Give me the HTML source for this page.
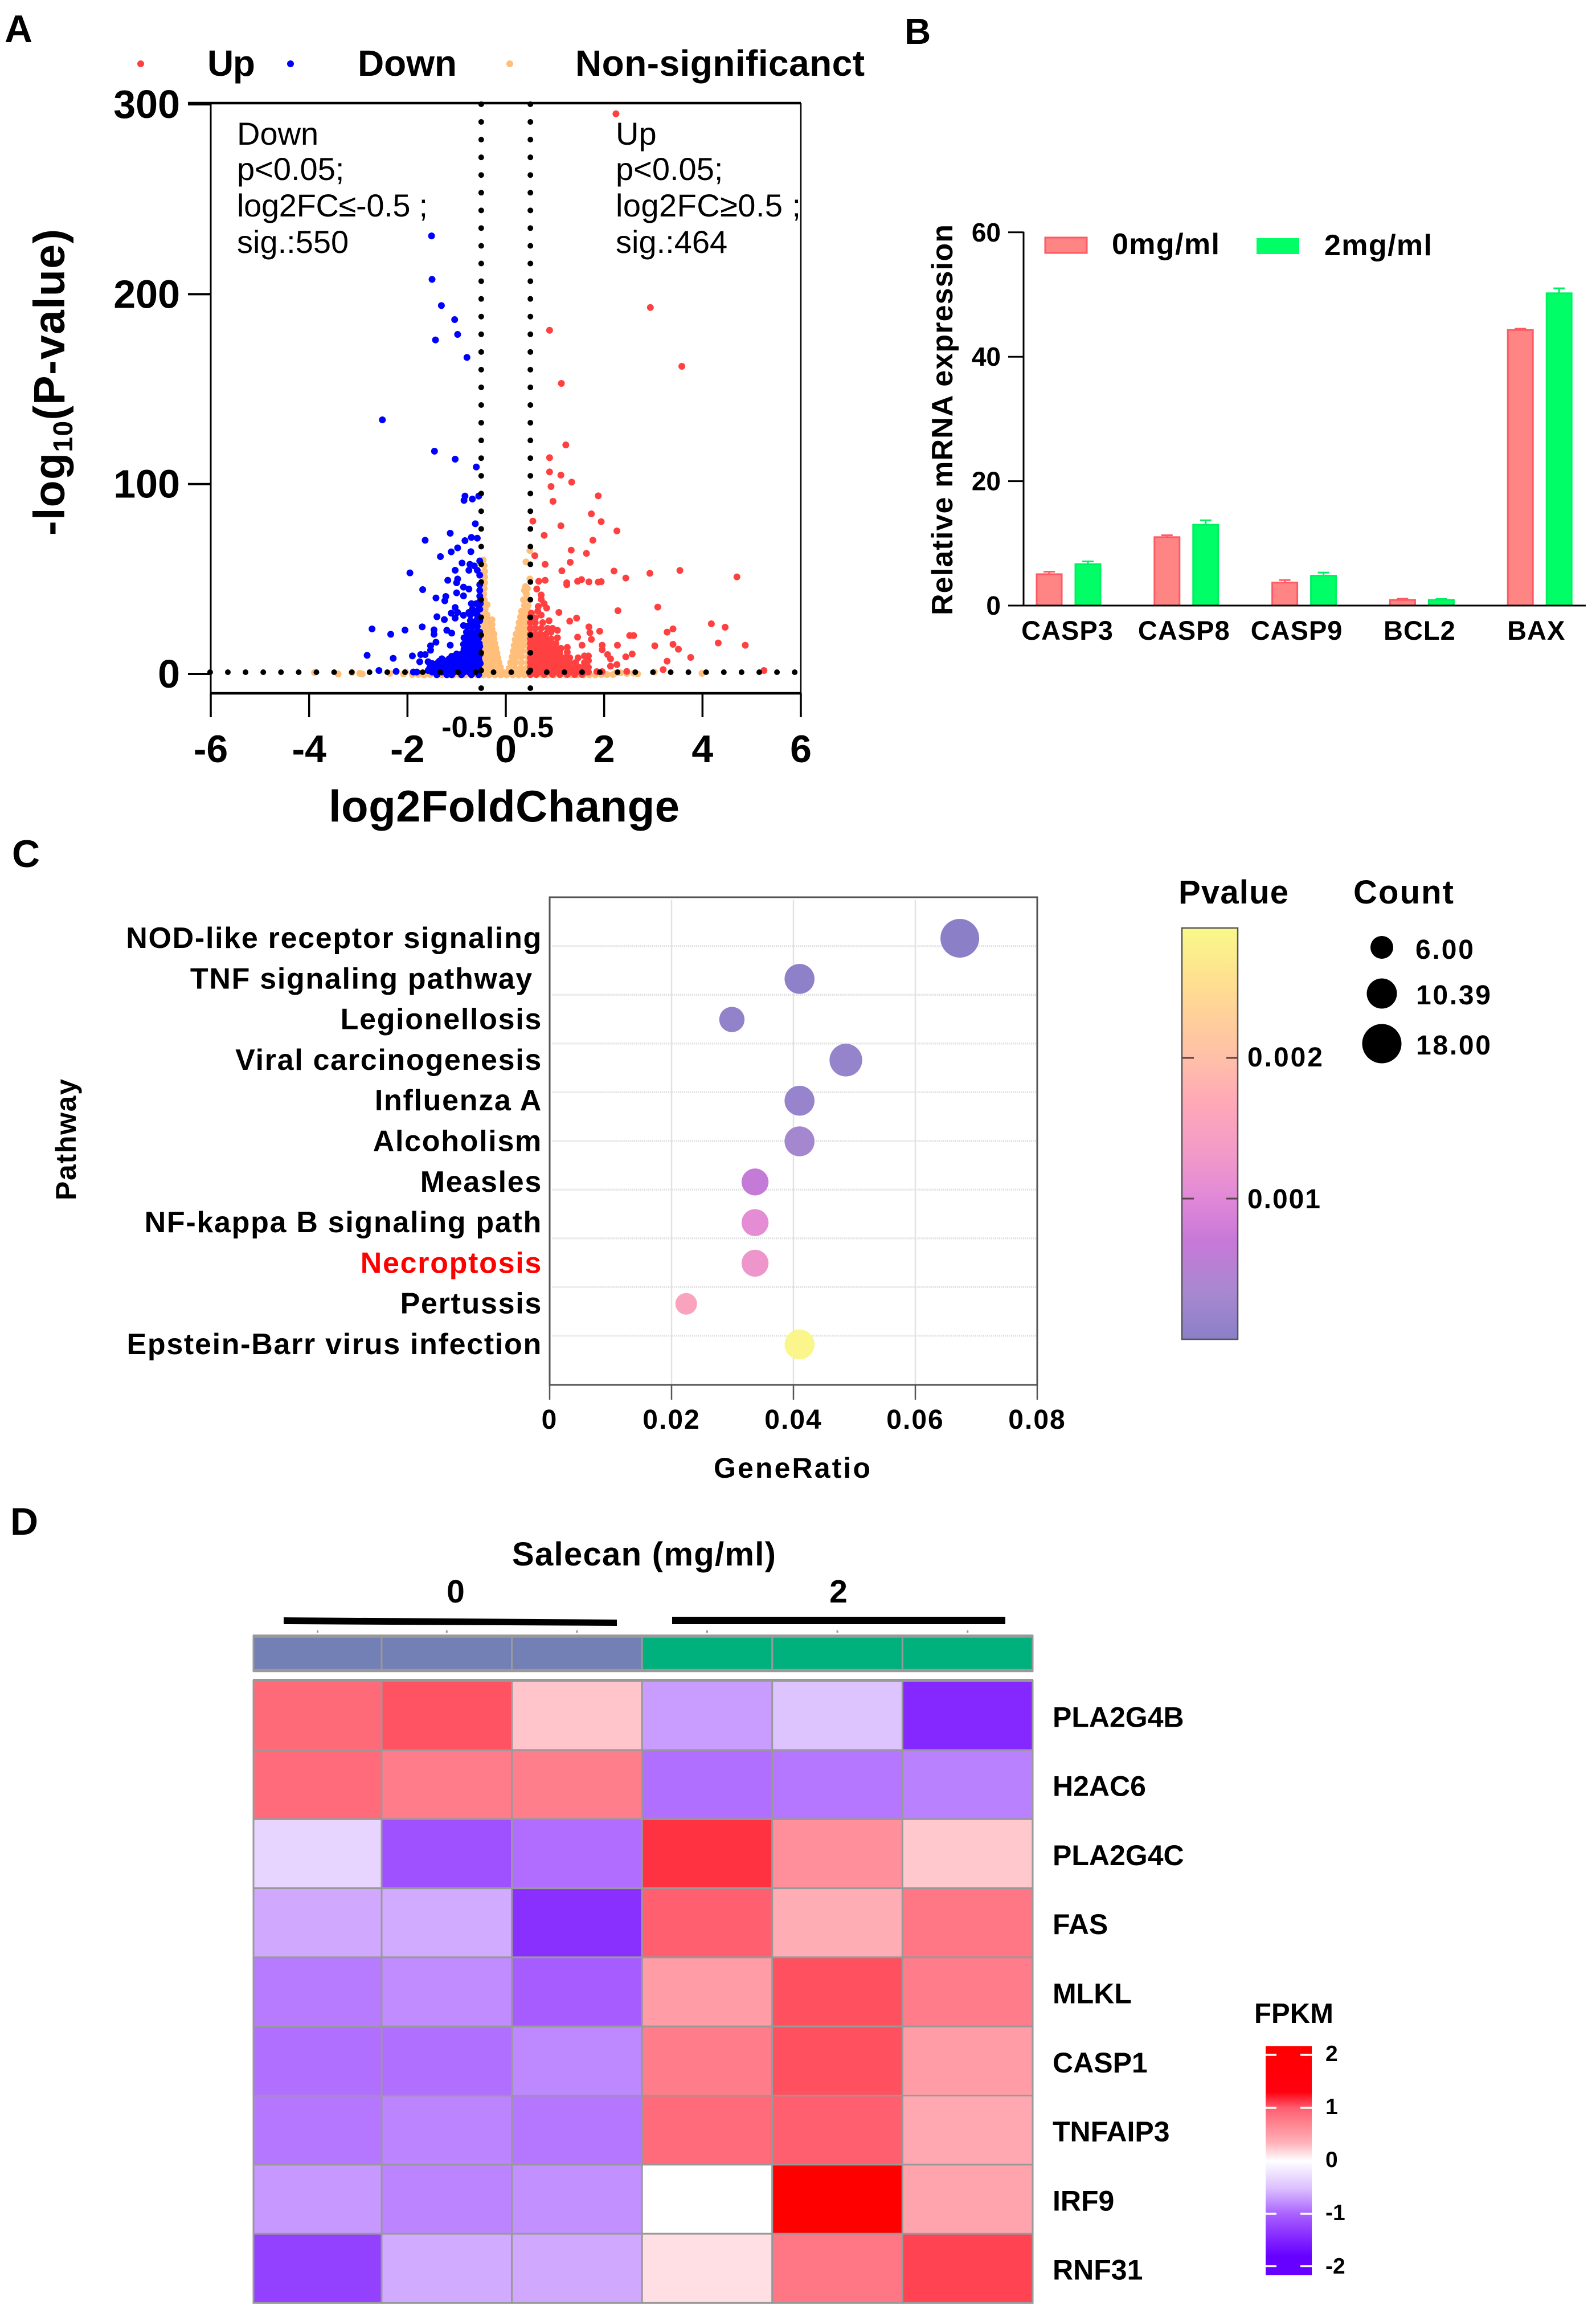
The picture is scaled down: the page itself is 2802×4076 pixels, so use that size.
<!DOCTYPE html>
<html lang="en">
<head>
<meta charset="utf-8">
<title>Salecan transcriptomic figure</title>
<style>
html,body{margin:0;padding:0;background:#fff;}
svg{display:block;}
text{font-family:"Liberation Sans",Arial,sans-serif;fill:#000;}
.b{font-weight:bold;}
</style>
</head>
<body>
<svg id="fig" xmlns="http://www.w3.org/2000/svg" width="2802" height="4076" viewBox="0 0 2802 4076">
<defs>
<linearGradient id="pg" x1="0" y1="1" x2="0" y2="0">
<stop offset="0" stop-color="#8a80c8"/><stop offset=".115" stop-color="#a888d0"/><stop offset=".24" stop-color="#c878d8"/><stop offset=".34" stop-color="#e088d8"/><stop offset=".45" stop-color="#f29ac8"/><stop offset=".575" stop-color="#ffa8b8"/><stop offset=".68" stop-color="#ffbfa8"/><stop offset=".74" stop-color="#ffc8a0"/><stop offset=".87" stop-color="#ffdf90"/><stop offset="1" stop-color="#f9f98a"/>
</linearGradient>
<linearGradient id="fg" x1="0" y1="0" x2="0" y2="1">
<stop offset="0" stop-color="#ff0000"/><stop offset=".2" stop-color="#ff0010"/><stop offset=".27" stop-color="#ff5f70"/><stop offset=".42" stop-color="#ffb0b8"/><stop offset=".5" stop-color="#ffffff"/><stop offset=".62" stop-color="#dcc0ff"/><stop offset=".735" stop-color="#a960ff"/><stop offset=".85" stop-color="#7f20ff"/><stop offset=".92" stop-color="#6600ff"/><stop offset="1" stop-color="#6600ff"/>
</linearGradient>
</defs>

<text class="b" x="8" y="74" font-size="68">A</text>
<text class="b" x="1588" y="77" font-size="64">B</text>
<text class="b" x="21" y="1522" font-size="68">C</text>
<text class="b" x="18" y="2694" font-size="68">D</text>

<g id="panelA">
<circle cx="247" cy="112" r="6" fill="#ff4040"/>
<text class="b" x="364" y="133" font-size="64" textLength="84">Up</text>
<circle cx="510" cy="112" r="6" fill="#0000ff"/>
<text class="b" x="628" y="133" font-size="64" textLength="174">Down</text>
<circle cx="895" cy="112" r="6" fill="#ffbe7a"/>
<text class="b" x="1010" y="133" font-size="64" textLength="508">Non-significanct</text>
<text class="b" transform="translate(113 940) rotate(-90)" font-size="77" textLength="538">-log<tspan font-size="48" dy="14">10</tspan><tspan dy="-14">(P-value)</tspan></text>
<text class="b" x="577" y="1442" font-size="78" textLength="616">log2FoldChange</text>
<text x="416" y="254" font-size="56">Down</text>
<text x="416" y="316" font-size="56">p&lt;0.05;</text>
<text x="416" y="380" font-size="56" textLength="335">log2FC≤-0.5 ;</text>
<text x="416" y="444" font-size="56">sig.:550</text>
<text x="1081" y="254" font-size="56">Up</text>
<text x="1081" y="316" font-size="56">p&lt;0.05;</text>
<text x="1081" y="380" font-size="56" textLength="325">log2FC≥0.5 ;</text>
<text x="1081" y="444" font-size="56">sig.:464</text>
<text class="b" x="820" y="1294" font-size="52" text-anchor="middle">-0.5</text>
<text class="b" x="936" y="1294" font-size="52" text-anchor="middle">0.5</text>
</g>

<g id="panelB">
<rect x="1835" y="417" width="73" height="27" fill="#ff8484" stroke="#ff5a64" stroke-width="3"/>
<text class="b" x="1952" y="446" font-size="52" textLength="189">0mg/ml</text>
<rect x="2206" y="418" width="75" height="28" fill="#00ff66"/>
<text class="b" x="2325" y="448" font-size="52" textLength="189">2mg/ml</text>
<text class="b" transform="translate(1672 1080) rotate(-90)" font-size="52" textLength="686">Relative mRNA expression</text>
</g>

<g id="panelC">
<text class="b" transform="translate(133 2107) rotate(-90)" font-size="50" textLength="213">Pathway</text>
<text class="b" x="1253" y="2594" font-size="50" textLength="275">GeneRatio</text>
<text class="b" x="2069" y="1586" font-size="58" textLength="193">Pvalue</text>
<rect x="2075" y="1629" width="98" height="722" fill="url(#pg)" stroke="#555" stroke-width="2.5"/>
<path d="M2076 1857h20M2153 1857h20M2076 2104h20M2153 2104h20" stroke="#5a4048" stroke-width="3" fill="none"/>
<text class="b" x="2190" y="1872" font-size="48" textLength="132">0.002</text>
<text class="b" x="2190" y="2121" font-size="48" textLength="128">0.001</text>
<text class="b" x="2376" y="1586" font-size="58" textLength="176">Count</text>
<circle cx="2426" cy="1663" r="20"/>
<circle cx="2426" cy="1744" r="26.5"/>
<circle cx="2426" cy="1832" r="34.5"/>
<text class="b" x="2485" y="1683" font-size="48" textLength="102">6.00</text>
<text class="b" x="2486" y="1763" font-size="48" textLength="131">10.39</text>
<text class="b" x="2486" y="1851" font-size="48" textLength="131">18.00</text>
</g>

<g id="panelD">
<text class="b" x="899" y="2748" font-size="58" textLength="463">Salecan (mg/ml)</text>
<text class="b" x="800" y="2813" font-size="57" text-anchor="middle">0</text>
<text class="b" x="1472" y="2813" font-size="57" text-anchor="middle">2</text>
<polygon points="498,2839 1083,2843 1083,2854 498,2851"/>
<rect x="1180" y="2838" width="585" height="13"/>
<text class="b" x="2202" y="3551" font-size="49" textLength="139">FPKM</text>
<rect x="2222" y="3592" width="81" height="402" fill="url(#fg)"/>
<path d="M2222 3607h19M2283 3607h20M2222 3700h19M2283 3700h20M2222 3886h19M2283 3886h20M2222 3978h19M2283 3978h20" stroke="#fff" stroke-width="3.5" fill="none"/>
<text class="b" x="2327" y="3618" font-size="39">2</text>
<text class="b" x="2327" y="3711" font-size="39">1</text>
<text class="b" x="2327" y="3804" font-size="39">0</text>
<text class="b" x="2327" y="3897" font-size="39">-1</text>
<text class="b" x="2327" y="3991" font-size="39">-2</text>
</g>
</svg>

<script>
// ---------- Panel A data ----------
const volcanoXTicks = [-6,-4,-2,0,2,4,6];
const volcanoYTicks = [0,100,200,300];
const fcThresholds = [-0.5,0.5];
const upPoints = [[2.24,295],[2.94,193],[3.58,162],[.89,181],[1.13,153],[1.22,120.6],[.89,113.9],[.89,106.4],[1.12,104.7],[1.34,101],[.92,98.7],[1.88,93.8],[.96,90.9],[1.74,84.3],[.55,80.5],[1.94,80.2],[1.12,78],[2.26,75.3],[.78,73],[1.77,70.4],[1.33,65.2],[1.64,63.5],[.59,62.3],[1.31,58.8],[.8,57.7],[1.14,54.3],[2.2,54.2],[3.54,54.5],[2.93,53],[2.44,50.5],[4.7,51.1],[.8,49.3],[.67,48.8],[1.24,48],[1.24,47],[1.46,48.8],[1.54,49.7],[1.69,48.5],[1.88,48.4],[1.94,48.6],[.63,44.7],[.72,41.6],[.72,39.3],[.78,37],[.83,34.7],[.66,35.5],[1.08,32.4],[2.28,33.3],[3.09,35.2],[1.44,29.4],[1.3,27.8],[4.18,26.4],[4.46,24.6],[3.4,23.7],[3.28,22],[1.91,22.5],[1.69,24.8],[1.71,21.7],[1.74,18.2],[1.46,19.4],[2.52,20.2],[2.6,20.2],[1.55,15.1],[2.27,15.1],[1.96,15.1],[1.96,12.8],[3.03,14.8],[3.4,15.6],[3.51,13],[4.32,16.3],[4.87,15.1],[3.76,8.7],[3.28,6.7],[2.57,10.5],[2.44,9],[2.07,10.2],[2.13,7.9],[2.26,4.9],[2.13,4.1],[3.2,2.3],[2.46,1.3],[1.85,1.2],[1.96,1.2],[5.25,1.8],
[.5,1],[.6,1],[.7,1],[.8,1],[.9,1],[1,1],[1.1,1],[1.2,1],[1.3,1],[1.4,1],[1.5,1],[1.6,1],[1.68,1],
[.5,-.3],[.62,-.3],[.78,-.3],[.95,-.3],[1.1,-.3],[1.25,-.3],[1.4,-.3],[1.55,-.3],
[.5,3.5],[.6,3.5],[.7,3.5],[.8,3.5],[.9,3.5],[1,3.5],[1.1,3.5],[1.2,3.5],[1.3,3.5],[1.4,3.5],[1.5,3.5],[1.6,3.5],[1.68,3.5],
[.5,6],[.6,6],[.7,6],[.8,6],[.9,6],[1,6],[1.1,6],[1.2,6],[1.3,6],[1.42,6],[1.6,6],[1.68,7],
[.5,8.5],[.6,8.5],[.7,8.5],[.8,8.5],[.9,8.5],[1,8.5],[1.1,8.5],[1.2,8.5],[1.3,8.5],[1.47,8.5],[1.6,9.5],[1.68,9.5],
[.5,11],[.6,11],[.7,11],[.8,11],[.9,11],[1,11],[1.1,11],[1.25,11.5],
[.5,13.5],[.6,13.5],[.7,13.5],[.8,13.5],[.9,13.5],[1,13.5],[1.12,13.5],[1.25,14],
[.5,16],[.6,16],[.7,16],[.8,16],[.9,16],[1.02,16],
[.5,18.5],[.6,18.5],[.7,18.5],[.8,18.5],[.92,18.5],[1.05,19],
[.5,21],[.6,21],[.7,21],[.82,21],[.92,22],[1.05,23],
[.5,24],[.6,24],[.72,24],[.85,24],[.95,24],
[.5,27],[.6,27],[.75,27],[.88,28],
[.5,30],[.6,29.5],[.72,31],[.52,32],[.65,33]];
const downPoints = [[-1.51,230.7],[-1.5,207.8],[-1.31,194],[-1.04,186.6],[-.98,178.8],[-1.43,175.9],[-.79,166.7],[-2.51,133.8],[-1.45,117.3],[-1.03,113.1],[-.6,109],[-.83,93.7],[-.85,91.4],[-.68,92.1],[-.55,93.7],[-.62,79.1],[-1.13,74.1],[-1.64,70.4],[-.7,71.9],[-.58,71.5],[-.83,70.2],[-.98,66.4],[-1.11,64.3],[-.71,64.4],[-1.33,61.8],[-.53,59.5],[-.89,58.4],[-.73,57.7],[-.64,56.9],[-.75,54.6],[-1.03,54.6],[-1.95,53.2],[-.58,54.6],[-.53,52],[-1.18,49.3],[-.98,50],[-.86,45.7],[-1,48],[-.75,44.7],[-.53,47],[-.53,44],[-.53,41],[-.53,38],[-1.69,44.4],[-1,42.7],[-.86,41.1],[-1.42,40],[-1.22,40.8],[-1.24,38.5],[-.7,37],[-1.03,35],[-.98,32.4],[-.64,32.4],[-.53,34],[-1.11,32],[-.75,32.4],[-1.4,30.1],[-1.25,28.6],[-1.03,29.4],[-.86,30.9],[-.57,29.4],[-.86,25.5],[-.69,27],[-1.7,24.8],[-2.72,23.7],[-2.05,23.1],[-2.34,20.9],[-1.46,23.2],[-1.46,20.9],[-1.2,23],[-1.1,21.5],[-1.42,16.7],[-1.53,14.8],[-1.53,12.5],[-1.13,15.1],[-.8,18.5],[-.86,15.6],[-2.82,9.8],[-2.29,8.2],[-1.9,9.5],[-1.73,10.2],[-1.64,10.2],[-1.75,6.4],[-2.58,1.8],[-2.23,1.3],[-1.88,1],[-1.81,1],[-1.58,6.4],[-1.53,4],[-1.58,1.8],
[-1.5,1],[-1.3,1],[-1.05,1],[-.95,1],[-.85,1],[-.75,1],[-.65,1],[-.55,1],
[-1.4,-.4],[-1.2,-.4],[-1.1,-.4],[-.9,-.4],[-.7,-.4],[-.55,-.4],
[-1.4,2],[-1.25,2],[-1.15,2],[-1,2],[-.9,2],[-.8,2],[-.7,2],[-.6,2],
[-1.55,3],[-1.45,3],[-1.35,3],[-1.25,3],[-1.15,3],[-1.05,3],[-.95,3],[-.85,3],[-.75,3],[-.65,3],[-.55,3],
[-1.45,4.2],[-1.3,4.2],[-1.15,4.2],[-1,4.2],[-.88,4.2],[-.78,4.2],[-.68,4.2],[-.56,4.2],
[-1.5,5.5],[-1.4,5.5],[-1.3,5.5],[-1.2,5.5],[-1.1,5.5],[-1,5.5],[-.9,5.5],[-.8,5.5],[-.7,5.5],[-.6,5.5],[-.52,5.5],
[-1.35,6.8],[-1.22,6.8],[-1.08,6.8],[-.92,6.8],[-.82,6.8],[-.72,6.8],[-.62,6.8],[-.54,6.8],
[-1.3,8],[-1.15,8],[-1.05,8],[-.95,8],[-.85,8],[-.75,8],[-.65,8],[-.55,8],
[-1.1,9.3],[-.95,9.3],[-.85,9.3],[-.73,9.3],[-.63,9.3],[-.55,9.3],
[-1,10.5],[-.9,10.5],[-.8,10.5],[-.7,10.5],[-.6,10.5],[-.52,10.5],
[-.85,12],[-.75,12],[-.65,12],[-.55,12],
[-.85,13],[-.75,13],[-.65,13],[-.55,13],
[-.8,14.5],[-.7,14.5],[-.6,14.5],[-.53,14.5],
[-.82,16],[-.72,16],[-.62,16],[-.54,16],
[-.78,17.5],[-.68,17.5],[-.58,17.5],
[-.85,19],[-.75,19],[-.65,19],[-.55,19],
[-.78,20.5],[-.68,20.5],[-.58,20.5],
[-.8,22],[-.7,22],[-.6,22],[-.53,22],
[-.78,25],[-.68,25],[-.58,25],
[-.72,28],[-.6,28],[-.53,28],
[-.72,31],[-.58,31],[-.68,34],[-.55,34],[-.6,37],[-.52,37]];
const nsPoints = [[-.46,60],[-.44,57],[-.43,54],[-.43,51],[-.43,48],[-.44,45],[-.45,42],[-.44,39],[-.44,36.5],[-.38,36.5],[-.42,34],[-.44,31],[-.38,31],
[-.44,28.5],[-.36,28.5],[-.28,28.5],[-.44,26],[-.36,26],[-.28,26],[-.44,23.5],[-.36,23.5],[-.28,23.5],
[-.44,21],[-.36,21],[-.28,21],[-.24,21],[-.44,18.5],[-.36,18.5],[-.28,18.5],[-.24,18.5],
[-.44,16],[-.36,16],[-.28,16],[-.22,16],[-.44,13.5],[-.36,13.5],[-.28,13.5],[-.2,13.5],
[-.44,11],[-.36,11],[-.28,11],[-.18,11],[-.44,8.5],[-.36,8.5],[-.28,8.5],[-.2,8.5],[-.16,8.5],
[-.44,6],[-.36,6],[-.28,6],[-.2,6],[-.14,6],[-.44,3.5],[-.36,3.5],[-.28,3.5],[-.2,3.5],[-.11,3.5],
[-.44,1],[-.36,1],[-.28,1],[-.2,1],[-.12,1],[-.06,1],
[.49,65],[.41,59],[.49,50],[.4,46],[.44,45],[.38,44],[.42,42],[.44,39.5],[.36,39],[.38,36],[.45,36],
[.32,33],[.38,33],[.45,33],[.3,30],[.37,30],[.44,30],[.27,27],[.35,27],[.44,27],[.25,24],[.33,24],[.44,24],
[.21,21],[.3,21],[.38,21],[.46,21],[.19,18],[.27,18],[.36,18],[.45,18],[.17,15],[.26,15],[.35,15],[.45,15],
[.15,12],[.24,12],[.34,12],[.45,12],[.13,9],[.22,9],[.32,9],[.45,9],[.1,6],[.2,6],[.32,6],[.45,6],
[.07,3],[.18,3],[.3,3],[.42,3],[.04,1],[.14,1],[.25,1],[.38,1],
[-1.9,-.3],[-1.78,-.3],[-1.66,-.5],[-1.54,-.3],[-1.42,-.5],[-1.3,-.5],[-1.18,-.5],[-1.06,-.5],[-.94,-.5],[-.82,-.5],[-.7,-.5],[-.58,-.5],[-.46,-.5],[-.34,-.5],[-.22,-.5],[-.1,-.5],[.02,-.5],[.14,-.5],[.26,-.5],[.38,-.5],[.5,-.5],[.62,-.5],[.74,-.5],[.86,-.5],[.98,-.5],[1.1,-.5],[1.22,-.5],[1.34,-.5],[1.46,-.5],[1.58,-.5],[1.7,-.5],[1.82,-.5],[1.94,-.3],[2.06,-.3],[2.18,-.3],
[-3.89,.7],[-3.41,0],[-3.13,.7],[-2.92,0],[-2.97,.3],[-2.36,.3],[-2.08,0],[-2.04,1],[-1.75,.3],[2.24,.5],[2.33,.6],[2.46,.3],[2.68,0],[2.6,.4],[3.02,1],[3.99,.3]];

// ---------- Panel B data ----------
const barGenes = ['CASP3','CASP8','CASP9','BCL2','BAX'];
const barTicks = [0,20,40,60];
const controlValues = [5.04,11,3.7,.9,44.3];
const treatedValues = [6.65,13,4.8,.9,50.2];
const controlErrors = [.4,.3,.4,.2,.2];
const treatedErrors = [.45,.7,.5,.15,.8];

// ---------- Panel C data ----------
const pathways = ['NOD-like receptor signaling','TNF signaling pathway\u00a0','Legionellosis','Viral carcinogenesis','Influenza A','Alcoholism','Measles','NF-kappa B signaling path','Necroptosis','Pertussis','Epstein-Barr virus infection'];
const geneRatios = [.0673,.041,.0299,.0486,.041,.041,.0337,.0337,.0337,.0224,.041];
const pathwayCounts = [18,11,8,13,11,11,9,9,9,6,11];
const pathwayPvalues = [.00001,.00005,.00008,.00012,.00016,.0003,.00065,.00108,.00125,.00155,.00288];
const ratioTicks = [0,.02,.04,.06,.08];
const ratioTickLabels = ['0','0.02','0.04','0.06','0.08'];

// ---------- Panel D data ----------
const heatGenes = ['PLA2G4B','H2AC6','PLA2G4C','FAS','MLKL','CASP1','TNFAIP3','IRF9','RNF31'];
const heatRow1 = [.95,1.14,.37,-.69,-.47,-1.5];
const heatRow2 = [.94,.83,.82,-.92,-.88,-.83];
const heatRow3 = [-.34,-1.14,-.93,1.43,.71,.35];
const heatRow4 = [-.62,-.61,-1.43,1.03,.52,.87];
const heatRow5 = [-.86,-.77,-1.04,.63,1.16,.83];
const heatRow6 = [-.92,-.92,-.79,.83,1.16,.63];
const heatRow7 = [-.88,-.81,-.88,.94,1.03,.55];
const heatRow8 = [-.71,-.81,-.75,0,2,.58];
const heatRow9 = [-1.29,-.61,-.62,.2,.87,1.28];
const heatValues = [heatRow1,heatRow2,heatRow3,heatRow4,heatRow5,heatRow6,heatRow7,heatRow8,heatRow9];
const sampleGroups = ['0','0','0','2','2','2'];

const NS = 'http://www.w3.org/2000/svg';
function el(parent, tag, attrs, text){
  const n = document.createElementNS(NS, tag);
  for (const k in attrs) n.setAttribute(k, attrs[k]);
  if (text !== undefined) n.textContent = text;
  parent.appendChild(n);
  return n;
}
function hex2rgb(h){return [parseInt(h.slice(1,3),16),parseInt(h.slice(3,5),16),parseInt(h.slice(5,7),16)];}
function ramp(stops, t){
  if (t <= stops[0][0]) return stops[0][1];
  for (let i = 1; i < stops.length; i++){
    if (t <= stops[i][0]){
      const f = (t - stops[i-1][0]) / (stops[i][0] - stops[i-1][0]);
      const a = hex2rgb(stops[i-1][1]), b = hex2rgb(stops[i][1]);
      return 'rgb(' + a.map((v,j) => Math.round(v + (b[j]-v)*f)).join(',') + ')';
    }
  }
  return stops[stops.length-1][1];
}

// ========== Panel A ==========
(function(){
  const g = document.getElementById('panelA');
  const vx = v => 888 + 86.33*v;
  const vy = v => 1183 - 3.333*v;
  function plot(points, color, name){
    points.forEach(p => {
      const c = el(g,'circle',{cx:vx(p[0]),cy:vy(p[1]),r:6,fill:color});
      
      
    });
  }
  plot(nsPoints,'#ffbe7a','nonsignificant-point');
  plot(upPoints,'#ff4040','up-point');
  plot(downPoints,'#0000ff','down-point');
  fcThresholds.forEach(t => {
    for (let k = 0; k <= 33; k++){
      const d = el(g,'circle',{cx:vx(t),cy:183+31.06*k,r:5,fill:'#000'});
      
      
    }
  });
  for (let k = -1; k <= 32; k++){
    const d = el(g,'circle',{cx:400+31.1*k,cy:1180,r:5,fill:'#000'});
    
    
  }
  const spines = [[370,181,370,1217,3],[1406,181,1406,1217,2.5],[330,181,1406,181,4.5],[370,1217,1406,1217,4.5]];
  spines.forEach(s => {
    const l = el(g,'line',{x1:s[0],y1:s[1],x2:s[2],y2:s[3],stroke:'#000','stroke-width':s[4]});
    
    
  });
  volcanoYTicks.forEach(t => {
    const l = el(g,'line',{x1:330,x2:370,y1:vy(t),y2:vy(t),stroke:'#000','stroke-width':4});
    
    
    const x = el(g,'text',{x:316,y:vy(t)+24,'text-anchor':'end','font-size':70,'font-weight':'bold'},String(t));
    
    
  });
  volcanoXTicks.forEach(t => {
    const l = el(g,'line',{x1:vx(t),x2:vx(t),y1:1217,y2:1259,stroke:'#000','stroke-width':3.5});
    
    
    const x = el(g,'text',{x:vx(t),y:1338,'text-anchor':'middle','font-size':68,'font-weight':'bold'},String(t));
    
    
  });
})();

// ========== Panel B ==========
(function(){
  const g = document.getElementById('panelB');
  const by = v => 1063 - 10.92*v;
  const gx = i => 1820 + 206.8*i;
  const labelNudge = [-2,-4,-13,-4,-6];
  function drawBar(x, v, e, fill, stroke, name){
    const w = el(g,'path',{d:'M'+(x+12)+' '+by(v+e)+'h20M'+(x+22)+' '+by(v+e)+'V'+by(v),stroke:stroke,'stroke-width':3,fill:'none'});
    
    
    const r = el(g,'rect',{x:x,y:by(v),width:44,height:by(0)-by(v),fill:fill,stroke:stroke,'stroke-width':3});
    
    
  }
  barGenes.forEach((name,i) => {
    drawBar(gx(i), controlValues[i], controlErrors[i], '#ff8484', '#ff5a64', 'bar-control');
    drawBar(gx(i)+68, treatedValues[i], treatedErrors[i], '#00ff66', '#00f060', 'bar-treated');
    const t = el(g,'text',{x:gx(i)+56+labelNudge[i],y:1123,'text-anchor':'middle','font-size':47,'font-weight':'bold','letter-spacing':1},name);
    
    
  });
  const yAxis = el(g,'line',{x1:1797,x2:1797,y1:by(60)-1,y2:by(0)+1,stroke:'#000','stroke-width':3});
  
  
  const xAxis = el(g,'line',{x1:1770,x2:2784,y1:by(0),y2:by(0),stroke:'#000','stroke-width':3});
  
  
  barTicks.forEach(t => {
    const l = el(g,'line',{x1:1770,x2:1797,y1:by(t),y2:by(t),stroke:'#000','stroke-width':3});
    
    
    const x = el(g,'text',{x:1757,y:by(t)+16,'text-anchor':'end','font-size':46,'font-weight':'bold'},String(t));
    
    
  });
})();

// ========== Panel C ==========
(function(){
  const g = document.getElementById('panelC');
  const rx = v => 965 + v/0.08*856;
  const ry = i => 1647 + 71.3*i;
  const pStops = [[0,'#8a80c8'],[.115,'#a888d0'],[.24,'#c878d8'],[.34,'#e088d8'],[.45,'#f29ac8'],[.575,'#ffa8b8'],[.68,'#ffbfa8'],[.74,'#ffc8a0'],[.87,'#ffdf90'],[1,'#f9f98a']];
  const pFrac = p => p/0.00292;
  const dia = c => Math.sqrt(1444 + (c-6)*265);
  for (let k = 0; k < 9; k++){
    const h = el(g,'line',{x1:970,x2:1820,y1:1660.7+85.5*k,y2:1660.7+85.5*k,stroke:'#e2e2e2','stroke-width':3.5,'stroke-dasharray':'2 1.5'});
    
    
  }
  ratioTicks.forEach((t,i) => {
    if (i > 0 && i < ratioTicks.length-1){
      const v = el(g,'line',{x1:rx(t),x2:rx(t),y1:1580,y2:2431,stroke:'#e2e2e2','stroke-width':2.5});
      
      
    }
    const l = el(g,'line',{x1:rx(t),x2:rx(t),y1:2431,y2:2457,stroke:'#555','stroke-width':2.5});
    
    
    const x = el(g,'text',{x:rx(t),y:2508,'text-anchor':'middle','font-size':48,'font-weight':'bold','letter-spacing':2},ratioTickLabels[i]);
    
    
  });
  const box = el(g,'rect',{x:965,y:1575,width:856,height:856,fill:'none',stroke:'#555','stroke-width':3});
  
  
  pathways.forEach((name,i) => {
    const red = name === 'Necroptosis';
    const t = el(g,'text',{x:952,y:ry(i)+17,'text-anchor':'end','font-size':52,'font-weight':'bold','letter-spacing':1.7},name);
    if (red) t.style.fill = '#ff0000';
    
    
    const c = el(g,'circle',{cx:rx(geneRatios[i]),cy:ry(i),r:dia(pathwayCounts[i])/2,fill:ramp(pStops,pFrac(pathwayPvalues[i]))});
    
    
  });
})();

// ========== Panel D ==========
(function(){
  const g = document.getElementById('panelD');
  const cx = i => i === 0 ? 445 : 670 + 228.6*(i-1);
  const cy = i => 2950.7 + 121.3*i;
  const hStops = [[-2,'#6600ff'],[-1.5,'#8428ff'],[-1,'#a960ff'],[-.5,'#dcc0ff'],[0,'#ffffff'],[.5,'#ffb0b8'],[1,'#ff6272'],[1.5,'#ff2a3a'],[2,'#ff0000']];
  const groupColor = {'0':'#7380b5','2':'#00b17d'};
  sampleGroups.forEach((s,i) => {
    const mid = (cx(i)+cx(i+1))/2;
    const tk = el(g,'line',{x1:mid,x2:mid,y1:2862,y2:2866,stroke:'#999','stroke-width':3});
    
    
    const r = el(g,'rect',{x:cx(i),y:2872,width:cx(i+1)-cx(i),height:61,fill:groupColor[s],stroke:'#999','stroke-width':3});
    
    
  });
  const bandEdges = el(g,'path',{d:'M444 2872H1814M444 2932.5H1814',stroke:'#999','stroke-width':5.5,fill:'none'});
  
  
  heatValues.forEach((row,r) => {
    row.forEach((v,c) => {
      const cell = el(g,'rect',{x:cx(c),y:cy(r),width:cx(c+1)-cx(c),height:121.3,fill:ramp(hStops,v),stroke:'#999','stroke-width':3});
      
      
    });
    const t = el(g,'text',{x:1848,y:cy(r)+60.6+20,'font-size':50,'font-weight':'bold'},heatGenes[r]);
    
    
  });
  const heatTop = el(g,'line',{x1:444,x2:1814,y1:2949.5,y2:2949.5,stroke:'#999','stroke-width':5});
  
  
})();
</script>
</body>
</html>
